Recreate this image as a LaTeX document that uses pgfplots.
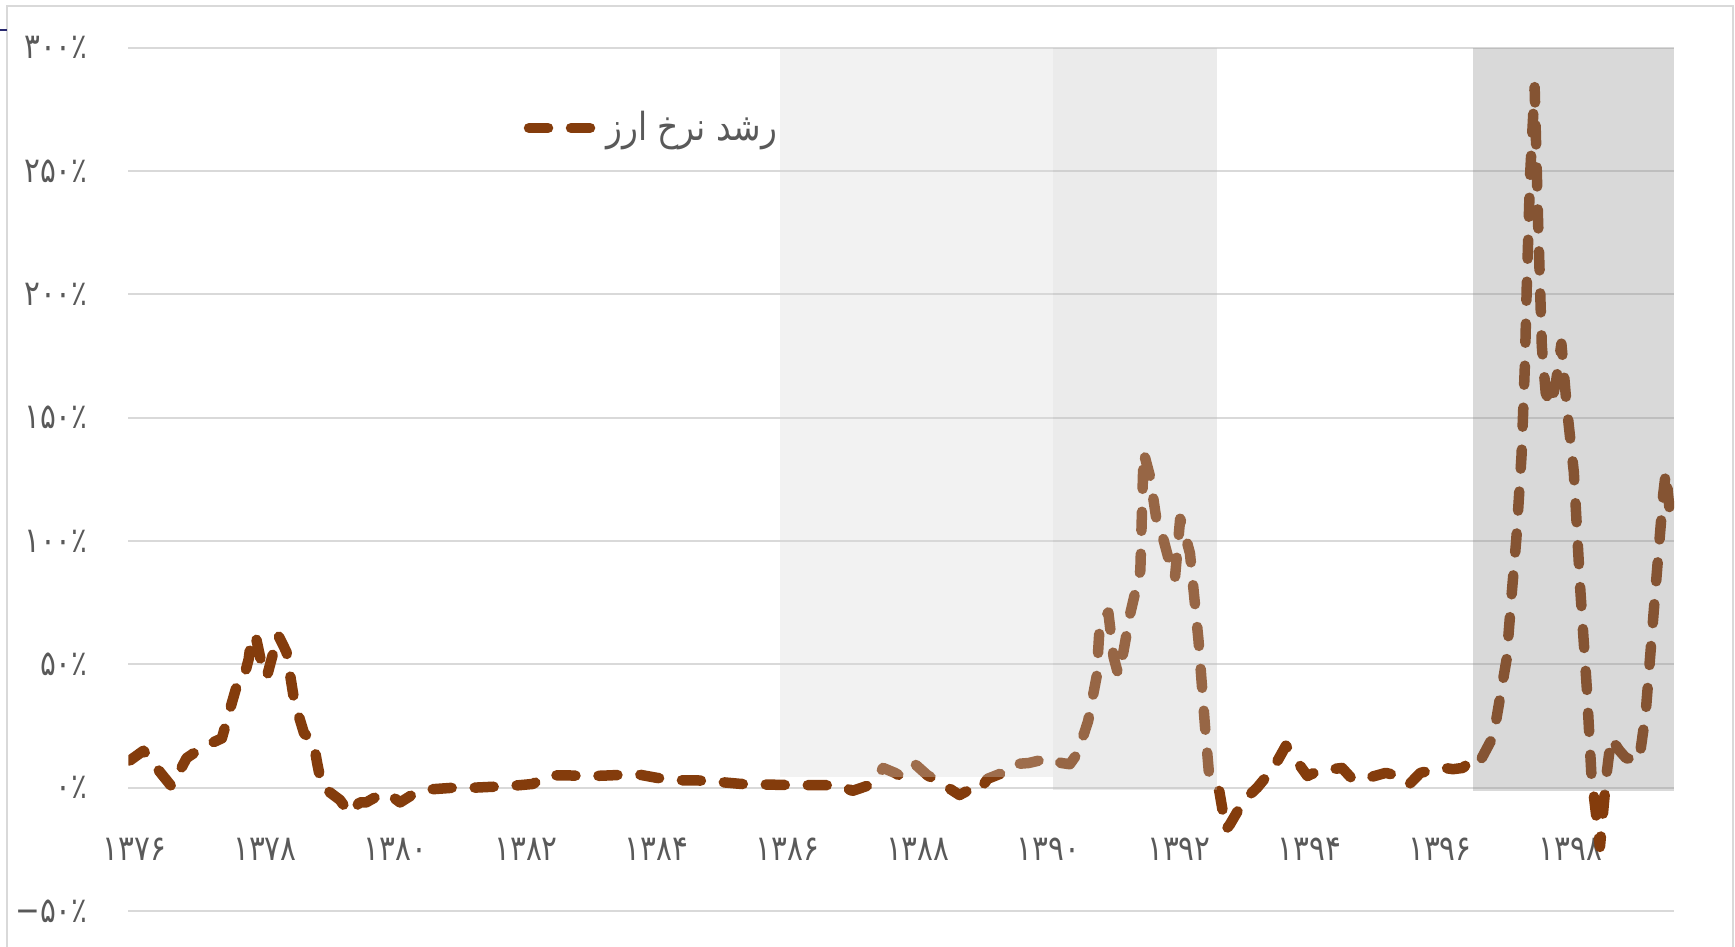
\documentclass[border=0pt]{standalone}
\usepackage{fontspec}
\usepackage{pgfplots}
\pgfplotsset{compat=1.18}
\setmainfont{DejaVu Sans}
\newfontfamily\arabicfont[Script=Arabic, FakeStretch=0.85]{DejaVu Sans}
\newfontfamily\digitfont[FakeStretch=0.84]{DejaVu Sans}
\TeXXeTstate=1
\definecolor{rateBrown}{RGB}{132,60,12}
\definecolor{labelGray}{RGB}{89,89,89}
\definecolor{gridGray}{RGB}{217,217,217}
\definecolor{frameNavy}{RGB}{40,40,110}

\begin{document}
\begin{tikzpicture}
\useasboundingbox (-12.83mm,-3.6mm) rectangle (160.67mm,91.1mm);
\draw[gridGray, line width=0.2mm] (-12.1mm,-10mm) -- (-12.1mm,90.5mm) -- (160.44mm,90.5mm) -- (160.44mm,-10mm);
\draw[frameNavy, line width=0.2mm] (-12.83mm,88.1mm) -- (-12.1mm,88.1mm);
\begin{axis}[
  width=154.57mm, height=86.33mm, scale only axis,
  xmin=1375.907, xmax=1399.585,
  ymin=-50, ymax=300,
  xtick={1376,1378,...,1398},
  xticklabels={۱۳۷۶,۱۳۷۸,۱۳۸۰,۱۳۸۲,۱۳۸۴,۱۳۸۶,۱۳۸۸,۱۳۹۰,۱۳۹۲,۱۳۹۴,۱۳۹۶,۱۳۹۸},
  ytick={-50,0,50,100,150,200,250,300},
  yticklabels={−۵۰٪,۰٪,۵۰٪,۱۰۰٪,۱۵۰٪,۲۰۰٪,۲۵۰٪,۳۰۰٪},
  axis line style={draw=none},
  major tick length=0pt,
  ymajorgrids, grid style={gridGray, line width=0.2mm},
  tick label style={font=\digitfont\fontsize{10}{12}\selectfont, text=labelGray},
  yticklabel style={anchor=east, inner sep=0pt, xshift=-4.0mm},
  xticklabel style={anchor=center, inner sep=0pt, yshift=6.2mm},
  legend style={at={(0.2554,0.907)}, anchor=west, draw=none, fill=none,
    inner sep=0pt, font=\arabicfont\fontsize{11}{14}\selectfont, text=labelGray},
  legend cell align=left,
  legend image code/.code={\draw[#1] (0mm,0mm) -- (6.5mm,0mm);},
]
\addplot[rateBrown, line width=1.05mm, line cap=round, line join=round,
  dash pattern=on 1.9mm off 2.3mm] coordinates {
  (1375.93,11) (1376.14,15) (1376.25,11) (1376.57,0.5) (1376.80,12)
  (1377.05,16.5) (1377.34,20) (1377.50,35) (1377.62,46) (1377.70,47)
  (1377.75,52) (1377.80,62) (1377.87,60) (1377.95,50) (1378.03,45)
  (1378.20,62) (1378.33,55) (1378.45,35) (1378.60,22) (1378.74,19)
  (1378.80,10) (1378.87,0.7) (1379.00,-2) (1379.15,-5) (1379.30,-10.5)
  (1379.45,-6) (1379.55,-6) (1379.75,-3) (1379.89,-2.4) (1380.07,-6)
  (1380.25,-3) (1380.53,-0.7) (1380.90,0) (1381.20,0) (1381.60,0.5)
  (1381.90,1) (1382.10,1.5) (1382.36,5) (1382.60,5) (1383.00,4.7)
  (1383.30,5) (1383.69,5.5) (1384.00,4) (1384.30,3) (1384.60,3)
  (1384.92,2.4) (1385.30,1.5) (1385.60,1.3) (1386.16,1) (1386.50,1)
  (1386.80,1) (1387.00,-1.3) (1387.30,1.4) (1387.47,8) (1387.65,6)
  (1387.75,4.5) (1387.96,9.5) (1388.15,5) (1388.35,2) (1388.64,-3)
  (1388.85,0) (1388.95,-1) (1389.07,3.6) (1389.30,6) (1389.46,9.5)
  (1389.70,10) (1390.02,12) (1390.20,10) (1390.33,9.5) (1390.45,14)
  (1390.61,27) (1390.74,45) (1390.79,67) (1390.92,71) (1391.00,53)
  (1391.07,46) (1391.15,55) (1391.25,70) (1391.41,88) (1391.46,136)
  (1391.56,126) (1391.66,108) (1391.75,102) (1391.84,93) (1391.94,85)
  (1392.02,109) (1392.10,102) (1392.17,95) (1392.30,60) (1392.40,25)
  (1392.47,3) (1392.62,-1.5) (1392.72,-17) (1392.78,-15) (1393.00,-5)
  (1393.20,0) (1393.45,8) (1393.64,17) (1393.80,11) (1393.97,4.7)
  (1394.15,7) (1394.35,7.5) (1394.50,8) (1394.66,3.4) (1394.90,4)
  (1395.17,6) (1395.40,4.5) (1395.53,1.4) (1395.70,6) (1396.04,8.1)
  (1396.20,7.5) (1396.35,8) (1396.50,11.5) (1396.60,10) (1396.82,21)
  (1397.02,52) (1397.10,79) (1397.17,101) (1397.25,135) (1397.30,171)
  (1397.33,204) (1397.38,248) (1397.45,284) (1397.50,232) (1397.56,179)
  (1397.62,160) (1397.70,155) (1397.78,165) (1397.86,180) (1397.94,155)
  (1398.05,128) (1398.15,80) (1398.25,40) (1398.32,5) (1398.45,-24)
  (1398.55,5) (1398.62,20) (1398.75,15) (1398.85,12) (1399.05,11)
  (1399.15,30) (1399.30,80) (1399.42,119) (1399.46,128) (1399.52,112)
  (1399.58,114)
};
\addlegendentry{\beginR رشد نرخ ارز\endR}
% shaded periods
\addplot[forget plot, draw=none, fill={rgb,255:red,214;green,214;blue,214}, fill opacity=0.32]
  coordinates {(1385.89,4.3) (1385.89,300) (1390.07,300) (1390.07,4.3)} -- cycle;
\addplot[forget plot, draw=none, fill={rgb,255:red,192;green,192;blue,192}, fill opacity=0.32]
  coordinates {(1390.07,-1.1) (1390.07,300) (1392.58,300) (1392.58,-1.1)} -- cycle;
\addplot[forget plot, draw=none, fill={rgb,255:red,136;green,136;blue,136}, fill opacity=0.32]
  coordinates {(1396.50,-1.5) (1396.50,300) (1399.585,300) (1399.585,-1.5)} -- cycle;
\end{axis}
\end{tikzpicture}
\end{document}
